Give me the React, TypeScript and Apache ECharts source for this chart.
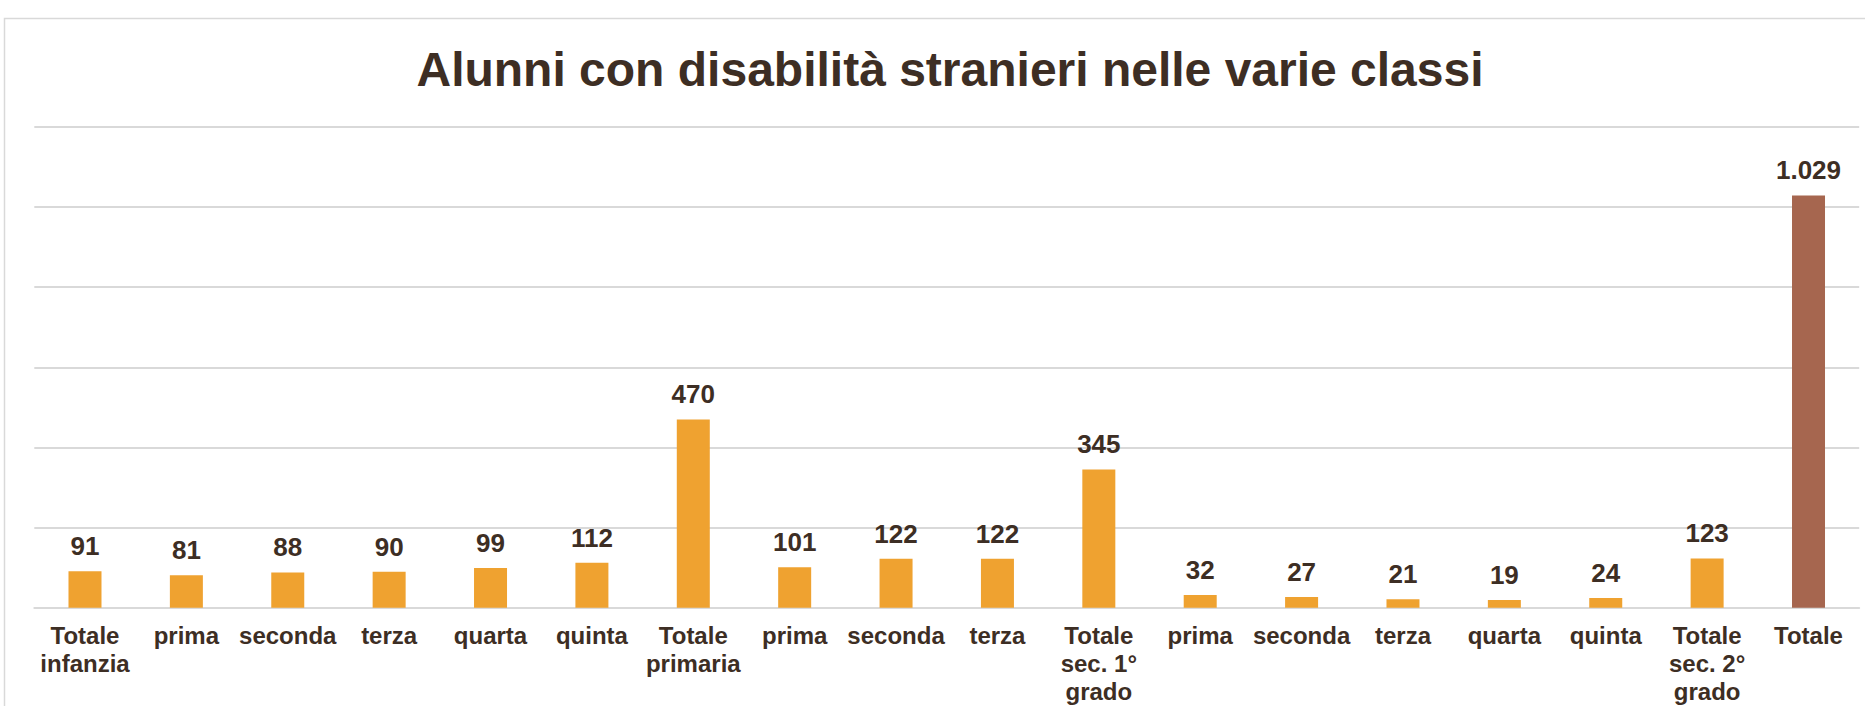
import React, { useEffect, useRef } from "react";
import * as echarts from "echarts";

const categories: string[] = [
  "Totale\ninfanzia",
  "prima",
  "seconda",
  "terza",
  "quarta",
  "quinta",
  "Totale\nprimaria",
  "prima",
  "seconda",
  "terza",
  "Totale\nsec. 1°\ngrado",
  "prima",
  "seconda",
  "terza",
  "quarta",
  "quinta",
  "Totale\nsec. 2°\ngrado",
  "Totale",
];

const values: number[] = [91, 81, 88, 90, 99, 112, 470, 101, 122, 122, 345, 32, 27, 21, 19, 24, 123, 1029];

const yTicks = { min: 0, max: 1200, interval: 200 };

const TITLE = "Alunni con disabilità stranieri nelle varie classi";
const TEXT = "#3d2e24";
const ORANGE = "#efa230";
const BROWN = "#a6664f";
const GRID = "#d9d9d9";
const FONT = "'Liberation Sans', Arial, sans-serif";

function fmt(v: number): string {
  return String(v).replace(/\B(?=(\d{3})+(?!\d))/g, ".");
}

export default function App() {
  const ref = useRef<HTMLDivElement>(null);
  useEffect(() => {
    if (!ref.current) return;
    const chart = echarts.init(ref.current, undefined, { renderer: "svg" });
    chart.setOption({
      animation: false,
      backgroundColor: "#ffffff",
      title: {
        text: TITLE,
        left: 945,
        top: 40,
        textAlign: "center",
        textStyle: { fontFamily: FONT, fontWeight: "bold", fontSize: 48, color: TEXT },
      },
      graphic: [
        {
          type: "rect",
          shape: { x: 4.5, y: 18.5, width: 1900, height: 720 },
          style: { fill: "none", stroke: GRID, lineWidth: 1.5 },
          silent: true,
        },
      ],
      grid: { left: 34.3, right: 5.8, top: 127, bottom: 98.3, containLabel: false },
      xAxis: {
        type: "category",
        data: categories,
        axisTick: { show: false },
        axisLine: { lineStyle: { color: GRID, width: 2 } },
        axisLabel: {
          interval: 0,
          margin: 14,
          fontFamily: FONT,
          fontWeight: "bold",
          fontSize: 24,
          lineHeight: 28,
          color: TEXT,
        },
      },
      yAxis: {
        type: "value",
        min: yTicks.min,
        max: yTicks.max,
        interval: yTicks.interval,
        axisLabel: { show: false },
        axisLine: { show: false },
        axisTick: { show: false },
        splitLine: { lineStyle: { color: GRID, width: 2 } },
      },
      series: [
        {
          type: "bar",
          barWidth: 33,
          data: values.map((v, i) => ({
            value: v,
            itemStyle: { color: i === values.length - 1 ? BROWN : ORANGE },
          })),
          label: {
            show: true,
            position: "top",
            distance: 12,
            fontFamily: FONT,
            fontWeight: "bold",
            fontSize: 26,
            color: TEXT,
            formatter: (p: any) => fmt(p.value),
          },
        },
      ],
    });
    return () => chart.dispose();
  }, []);
  return (
    <div
      ref={ref}
      style={{ position: "absolute", left: 0, top: 0, width: 1865, height: 706 }}
    />
  );
}
